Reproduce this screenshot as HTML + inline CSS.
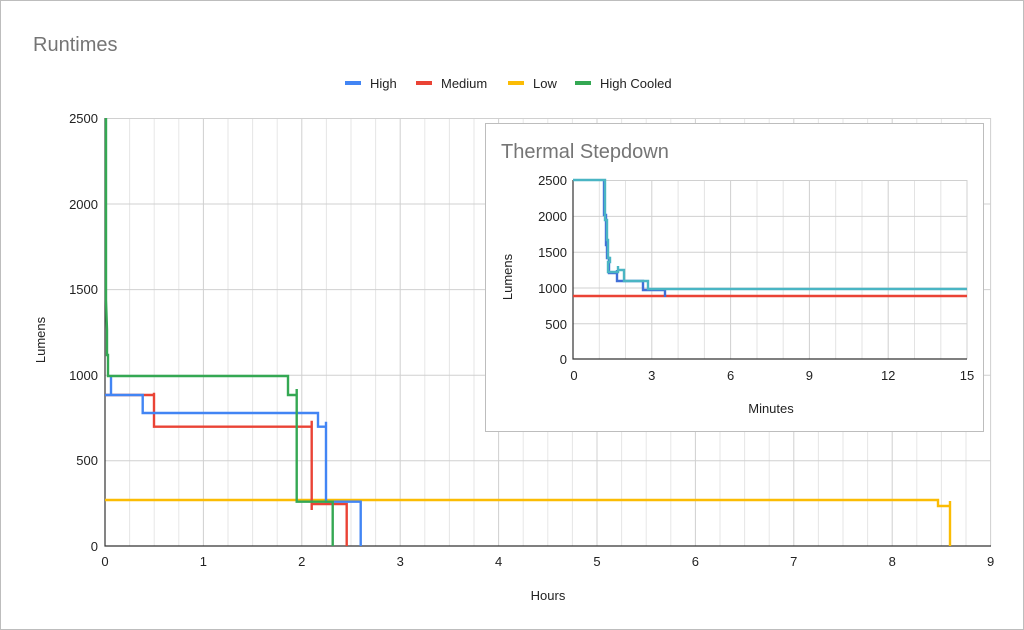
<!DOCTYPE html>
<html><head><style>
body{margin:0;background:#fff;}
svg{display:block;font-family:"Liberation Sans",Arial,sans-serif;}
</style></head><body>
<svg width="1024" height="630" viewBox="0 0 1024 630">
<rect x="0.5" y="0.5" width="1023" height="629" fill="#fff" stroke="#bdbdbd"/>
<text x="33" y="51" font-size="20" fill="#757575">Runtimes</text>
<g font-size="13" fill="#222">
<rect x="345" y="81" width="16" height="4" fill="#4285f4"/><text x="370" y="88">High</text>
<rect x="416" y="81" width="16" height="4" fill="#ea4335"/><text x="441" y="88">Medium</text>
<rect x="508" y="81" width="16" height="4" fill="#fbbc04"/><text x="533" y="88">Low</text>
<rect x="575" y="81" width="16" height="4" fill="#34a853"/><text x="600" y="88">High Cooled</text>
</g>
<g stroke="#e6e6e6" stroke-width="1">
<path d="M129.6 118V546M154.2 118V546M178.8 118V546M228 118V546M252.6 118V546M277.2 118V546M326.4 118V546M351 118V546M375.6 118V546M424.8 118V546M449.4 118V546M474 118V546M523.2 118V546M547.8 118V546M572.4 118V546M621.6 118V546M646.2 118V546M670.8 118V546M720 118V546M744.6 118V546M769.2 118V546M818.4 118V546M843 118V546M867.6 118V546M916.8 118V546M941.4 118V546M966 118V546"/>
</g>
<g stroke="#d0d0d0" stroke-width="1">
<path d="M203.4 118V546M301.8 118V546M400.2 118V546M498.6 118V546M597 118V546M695.4 118V546M793.8 118V546M892.2 118V546M990.6 118V546"/>
<path d="M105 118.5H991M105 204H991M105 289.6H991M105 375.2H991M105 460.8H991"/>
</g>
<path d="M105 118V546H991" fill="none" stroke="#333" stroke-width="1.2"/>
<g font-size="13" fill="#222" text-anchor="end">
<text x="98" y="123">2500</text><text x="98" y="209">2000</text><text x="98" y="294">1500</text><text x="98" y="380">1000</text><text x="98" y="465">500</text><text x="98" y="551">0</text>
</g>
<g font-size="13" fill="#222" text-anchor="middle">
<text x="105" y="566">0</text><text x="203.4" y="566">1</text><text x="301.8" y="566">2</text><text x="400.2" y="566">3</text><text x="498.6" y="566">4</text><text x="597" y="566">5</text><text x="695.4" y="566">6</text><text x="793.8" y="566">7</text><text x="892.2" y="566">8</text><text x="990.6" y="566">9</text>
<text x="548" y="600">Hours</text>
<text transform="translate(45,340) rotate(-90)">Lumens</text>
</g>
<g fill="none" stroke-width="2.4">
<path stroke="#fbbc04" d="M105 500H938V506H950V501V546"/>
<path stroke="#ea4335" d="M105 395H154V392.7V426.7H311.7V420.7V510V504H346.7V546"/>
<path stroke="#4285f4" d="M105 395H111V376 M111 395H142.7V413H318V426.7H326V421.7V501.7H360.7V546"/>
<path stroke="#34a853" d="M106 118V300L107 330V355H108V376H288V395H296.7V389V501.7H332.7V546"/>
</g>
<!-- inset -->
<rect x="485.5" y="123.5" width="498" height="308" fill="#fff" stroke="#bdbdbd"/>
<text x="501" y="158" font-size="20" fill="#757575">Thermal Stepdown</text>
<g stroke="#e3e3e3">
<path d="M599.3 180V359M625.5 180V359M678.1 180V359M704.4 180V359M757 180V359M783.2 180V359M835.7 180V359M862 180V359M914.5 180V359M940.8 180V359"/>
</g>
<g stroke="#d0d0d0">
<path d="M651.8 180V359M730.6 180V359M809.4 180V359M888.2 180V359M967 180V359"/>
<path d="M573 180.5H967M573 216.4H967M573 252.2H967M573 288H967M573 323.8H967"/>
</g>
<path d="M573 180V359H967" fill="none" stroke="#333" stroke-width="1.2"/>
<g font-size="13" fill="#222" text-anchor="end">
<text x="567" y="185">2500</text><text x="567" y="221">2000</text><text x="567" y="257">1500</text><text x="567" y="293">1000</text><text x="567" y="329">500</text><text x="567" y="364">0</text>
</g>
<g font-size="13" fill="#222" text-anchor="middle">
<text x="574" y="380">0</text><text x="651.8" y="380">3</text><text x="730.6" y="380">6</text><text x="809.4" y="380">9</text><text x="888.2" y="380">12</text><text x="967" y="380">15</text>
<text x="771" y="413">Minutes</text>
<text transform="translate(512,277) rotate(-90)">Lumens</text>
</g>
<g fill="none" stroke-width="2.4">
<path stroke="#ea4335" d="M573 296H967"/>
<path stroke="#3f6fd8" d="M604 180V215H606V245H607V258H609V273H617V270V281H643V290H665V297"/>
<path stroke="#4ab5c4" d="M573 180H605V220H607V240H608V258H610V262H608V272H618V266V270H624V281H648V289H967"/>
</g>
</svg>
</body></html>
